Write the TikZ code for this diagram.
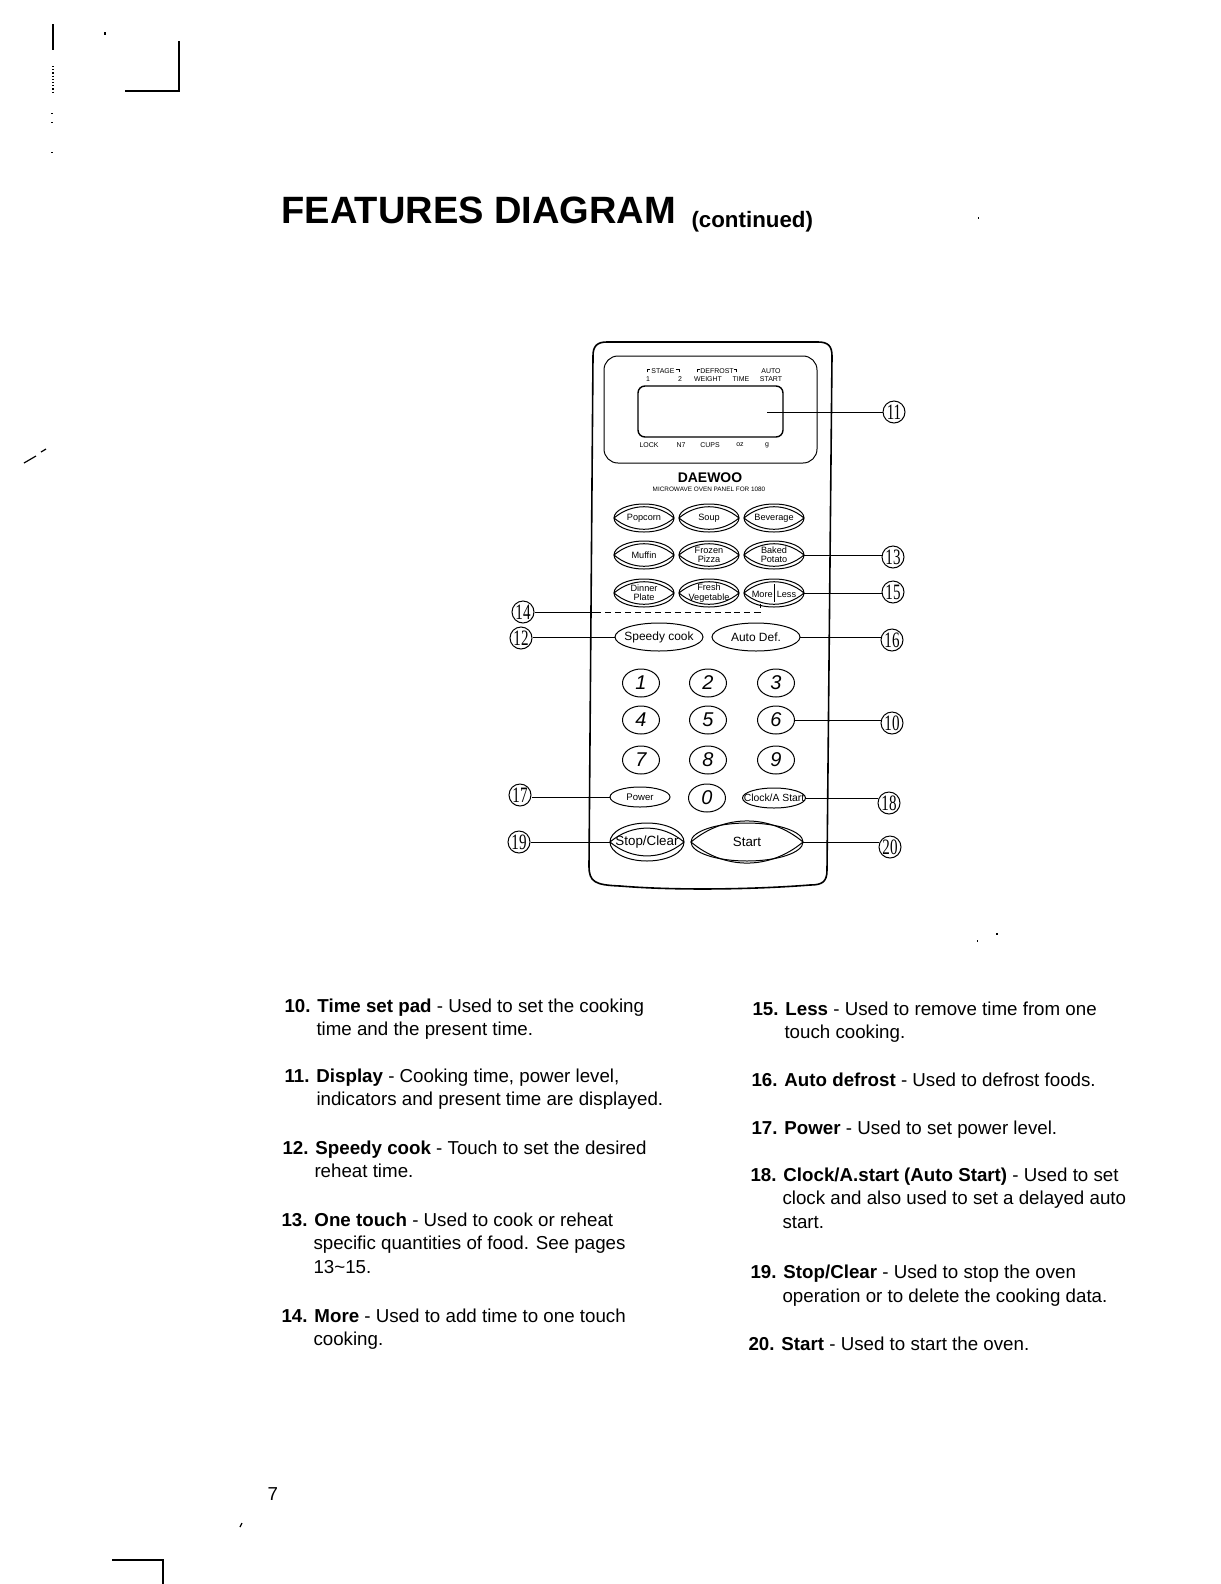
\documentclass[tikz,border=0pt]{standalone}
\usepackage{graphicx}
\usepackage{fontspec}
\setmainfont{Liberation Sans}
\newfontfamily\numfont{Liberation Serif}
\usetikzlibrary{positioning, shapes.geometric}
\newcommand{\ind}{\hspace*{16bp}}
\newcommand{\nar}[1]{\scalebox{.72}[1.05]{#1}}
\newcommand{\cornl}{\rule[0.5bp]{0.25bp}{1.8bp}\rule[2.1bp]{1.4bp}{0.25bp}}
\newcommand{\cornr}{\rule[2.1bp]{1.4bp}{0.25bp}\rule[0.5bp]{0.25bp}{1.8bp}}

\begin{document}
\begin{tikzpicture}[
    x=0.5bp, y=-0.5bp,
    line width=0.5bp,
    btn/.style={draw, ellipse, inner sep=-4pt, outer sep=0pt, align=center,
                minimum width=30bp, minimum height=14bp,
                font=\fontsize{4.6}{4.7}\selectfont},
    echo/.style={append after command={
                 (\tikzlastnode.west) edge[bend left=40] (\tikzlastnode.east)
                 (\tikzlastnode.east) edge[bend left=40] (\tikzlastnode.west)}},
    wide/.style={btn, minimum width=44bp, font=\fontsize{6}{7}\selectfont},
    key/.style={btn, minimum width=18.5bp, minimum height=14bp,
                font=\fontsize{10}{12}\selectfont\itshape},
    big/.style={btn, echo, minimum height=19bp, font=\fontsize{6.7}{8}\selectfont},
    num/.style={draw, circle, minimum size=11bp, inner sep=0pt,
                font=\numfont\fontsize{10.5}{12}\selectfont},
    lab/.style={inner sep=0pt, font=\fontsize{3.5}{4}\selectfont},
    item/.style={anchor=north west, inner sep=0pt, align=left,
                 font=\fontsize{9.4}{12}\selectfont},
    lead/.style={line width=0.5bp},
    speck/.style={line width=0.6bp},
  ]
  \useasboundingbox (0,0) rectangle (1221,1584);

  %% ---- heading -----------------------------------------------------
  \node[inner sep=0pt, anchor=base west, font=\bfseries\fontsize{19.1}{22}\selectfont] (title) at (281,223)
  {FEATURES DIAGRAM};
  \node[inner sep=0pt, anchor=base west, font=\bfseries\fontsize{11.2}{13}\selectfont] (cont) at (691,227)
  {(continued)};

  %% ---- panel -------------------------------------------------------
  \draw[line width=0.8bp] (593,356) .. controls (593,346) and (597,342) .. (607,342)
    -- (818,342) .. controls (828,342) and (832,346) .. (832,356)
    -- (827,870) .. controls (827,882) and (822,885) .. (810,885)
    .. controls (760,889) and (680,891) .. (620,886)
    .. controls (595,885) and (589,882) .. (589,866) -- cycle;
  \draw[rounded corners=7pt] (604,356) rectangle (817,463);
  \draw[rounded corners=3.5pt, line width=0.7bp] (638,386) rectangle (783,437);

  %% ---- display texts -----------------------------------------------
  \node[lab] (stage)  at (663,371) {\cornl\,STAGE\,\cornr};
  \node[lab] (stg1)   at (648,379) {1};
  \node[lab] (stg2)   at (680,379) {2};
  \node[lab] (defr)   at (717,371) {\cornl DEFROST\cornr};
  \node[lab] (wgt)    at (708,379) {WEIGHT};
  \node[lab] (tim)    at (741,379) {TIME};
  \node[lab] (auto)   at (771,371) {AUTO};
  \node[lab] (start)  at (771,379) {START};
  \node[lab] (lock)   at (649,445) {LOCK};
  \node[lab] (n7)     at (681,445) {N7};
  \node[lab] (cups)   at (710,445) {CUPS};
  \node[lab] (oz)     at (740,445) {oz};
  \node[lab] (gr)     at (767,445) {g};
  \node[lab, font=\bfseries\fontsize{7}{8}\selectfont] (brand) at (710,478) {DAEWOO};
  \node[lab, font=\fontsize{3.2}{4}\selectfont] (model) at (709,489) {MICROWAVE OVEN PANEL FOR 1080};

  %% ---- touch buttons -----------------------------------------------
  \node[btn,echo] (pop)  at (644,518) {Popcorn};
  \node[btn,echo] (soup) at (709,518) {Soup};
  \node[btn,echo] (bev)  at (774,518) {Beverage};
  \node[btn,echo] (muf)  at (644,555) {Muffin};
  \node[btn,echo] (piz)  at (709,555) {Frozen\\Pizza};
  \node[btn,echo] (pot)  at (774,555) {Baked\\Potato};
  \node[btn,echo] (din)  at (644,593) {Dinner\\Plate};
  \node[btn,echo] (veg)  at (709,593) {Fresh\\Vegetable};
  \node[btn,echo] (mol)  at (774,593) {More\,\rule[-2.5bp]{0.5bp}{9bp}\,Less};
  \node[wide] (spd) at (659,637) {Speedy cook};
  \node[wide] (def) at (756,637) {Auto Def.};

  \node[key] (k1) at (641,683) {1};
  \node[key] (k2) at (708,683) {2};
  \node[key] (k3) at (776,683) {3};
  \node[key] (k4) at (641,720) {4};
  \node[key] (k5) at (708,720) {5};
  \node[key] (k6) at (776,720) {6};
  \node[key] (k7) at (641,760) {7};
  \node[key] (k8) at (708,760) {8};
  \node[key] (k9) at (776,760) {9};
  \node[key] (k0) at (707,798) {0};

  \node[btn, minimum height=10bp, font=\fontsize{4.8}{5}\selectfont] (pow) at (640,797) {Power};
  \node[btn, minimum width=31bp, minimum height=10bp, font=\fontsize{5.2}{6}\selectfont] (clk) at (774,798) {Clock/A Start};
  \node[big, minimum width=37bp] (stp) at (647,842) {Stop/Clear};
  \node[big, minimum width=56bp] (sta) at (747,842) {Start};

  %% ---- callout numbers ---------------------------------------------
  \node[num] (n11) at (894,412) {\nar{11}};
  \node[num] (n13) at (893,557) {\nar{13}};
  \node[num] (n15) at (893,592) {\nar{15}};
  \node[num] (n14) at (523,612) {\nar{14}};
  \node[num] (n12) at (521,638) {\nar{12}};
  \node[num] (n16) at (892,640) {\nar{16}};
  \node[num] (n10) at (892,723) {\nar{10}};
  \node[num] (n17) at (520,795) {\nar{17}};
  \node[num] (n18) at (889,803) {\nar{18}};
  \node[num] (n19) at (519,842) {\nar{19}};
  \node[num] (n20) at (890,847) {\nar{20}};

  \coordinate (c11) at (767,412);
  \coordinate (c14) at (760,604);
  \coordinate (c14b) at (595,612);
  \draw[lead] (n11) -- (c11);
  \draw[lead] (pot.east) -- (pot.east -| n13.west);
  \draw[lead] (mol.east) -- (mol.east -| n15.west);
  \draw[lead] (n14) -- (c14b);
  \draw[lead, densely dashed] (c14b) -| (c14);
  \draw[lead] (spd.west) -- (spd.west -| n12.east);
  \draw[lead] (def.east) -- (def.east -| n16.west);
  \draw[lead] (k6.east) -- (k6.east -| n10.west);
  \draw[lead] (pow.west) -- (pow.west -| n17.east);
  \draw[lead] (clk.east) -- (clk.east -| n18.west);
  \draw[lead] (n19) -- (stp.west);
  \draw[lead] (sta.east) -- (sta.east -| n20.west);

  %% ---- left column -------------------------------------------------
  \node[item] (t10) at (284,998)
  {\textbf{10. Time set pad} - Used to set the cooking\\ \ind time and the present time.};
  \node[item] (t11) at (284,1068)
  {\textbf{11. Display} - Cooking time, power level,\\ \ind indicators and present time are displayed.};
  \node[item] (t12) at (282,1140)
  {\textbf{12. Speedy cook} - Touch to set the desired\\ \ind reheat time.};
  \node[item] (t13) at (281,1212)
  {\textbf{13. One touch} - Used to cook or reheat\\ \ind specific quantities of food. See pages\\ \ind 13\textasciitilde15.};
  \node[item] (t14) at (281,1308)
  {\textbf{14. More} - Used to add time to one touch\\ \ind cooking.};

  %% ---- right column ------------------------------------------------
  \node[item] (t15) at (752,1001)
  {\textbf{15. Less} - Used to remove time from one\\ \ind touch cooking.};
  \node[item] (t16) at (751,1072) {\textbf{16. Auto defrost} - Used to defrost foods.};
  \node[item] (t17) at (751,1120) {\textbf{17. Power} - Used to set power level.};
  \node[item] (t18) at (750,1167)
  {\textbf{18. Clock/A.start (Auto Start)} - Used to set\\ \ind clock and also used to set a delayed auto\\ \ind start.};
  \node[item] (t19) at (750,1264)
  {\textbf{19. Stop/Clear} - Used to stop the oven\\ \ind operation or to delete the cooking data.};
  \node[item] (t20) at (748,1336) {\textbf{20. Start} - Used to start the oven.};

  \node[item] (page) at (267,1487) {7};

  %% ---- scan marks --------------------------------------------------
  \draw[speck] (125,91) -- (179,91) -- (179,41);
  \draw[speck] (112,1560) -- (163,1560) -- (163,1584);
  \draw[speck] (53,24) -- (53,50);
  \draw[speck, densely dotted] (53,66) -- (53,94);
  \draw[speck] (52,113) -- (52,114);
  \draw[speck] (52,122) -- (52,123);
  \draw[speck] (52,152) -- (52,153);
  \draw[speck] (105,32) -- (105,35);
  \draw[speck] (24,463) -- (36,456);
  \draw[speck] (41,452) -- (46,449);
  \draw[speck] (240,1527) -- (242,1523);
  \draw[speck] (977,941) -- (978,941);
  \draw[speck] (996,934) -- (998,934);
  \draw[speck] (978,218) -- (979,218);
\end{tikzpicture}
\end{document}
